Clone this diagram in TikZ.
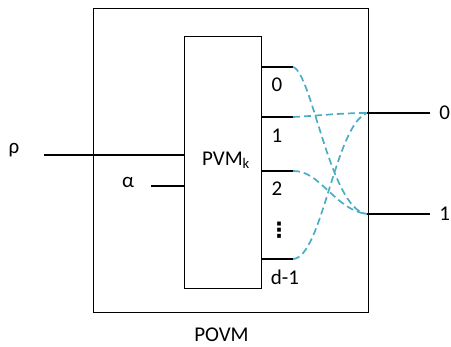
\documentclass[tikz,border=0pt]{standalone}
\usepackage{fontspec}
\setmainfont{Carlito}
\newfontfamily\symfont{DejaVu Sans}
\usetikzlibrary{positioning}
\definecolor{linkblue}{RGB}{75,172,198}

\begin{document}
\begin{tikzpicture}[x=1pt, y=-1pt, font=\fontsize{21}{24}\selectfont,
    wire/.style={line width=2.2pt},
    link/.style={linkblue, line width=1.7pt, dash pattern=on 7pt off 4pt}]
  \useasboundingbox (0,0) rectangle (451,347);
  % outer box and PVM box
  \draw[line width=1pt] (93,9) rectangle (368,313);
  \node[draw,line width=1pt,minimum width=77pt,minimum height=252pt,inner sep=0pt] (pvm) at (222.5,163) {};
  \node (pvmlabel) at (226,160) {PVM\textsubscript{k}};
  \node (povm) at (221.5,335) {POVM};
  % inputs
  \node (rho) at (14,150) {ρ};
  \node (alpha) at (128,182) {α};
  \coordinate (rhoin) at (44,155);
  \coordinate (alphain) at (151,186);
  \draw[wire] (rhoin) -- (rhoin -| pvm.west);
  \draw[wire] (alphain) -- (alphain -| pvm.west);
  % PVM outcomes
  \coordinate (o0) at (293,67);
  \coordinate (o1) at (293,117);
  \coordinate (o2) at (293,171);
  \coordinate (od) at (293,259);
  \draw[wire] (o0 -| pvm.east) -- (o0) (o1 -| pvm.east) -- (o1)
              (o2 -| pvm.east) -- (o2) (od -| pvm.east) -- (od);
  \node (l0) at (277,85) {0};
  \node (l1) at (277,136) {1};
  \node (l2) at (277,189) {2};
  \node[inner sep=0pt] (ldots) at (279,230) {\symfont\bfseries ⋮};
  \node (ld) at (285,277) {d-1};
  % POVM outcomes
  \coordinate (p0) at (367,113);
  \coordinate (p1) at (367,214);
  \draw[wire] (p0) -- (430,113) node[right=5pt] (r0) {0};
  \draw[wire] (p1) -- (430,214) node[right=5pt] (r1) {1};
  % classical relabelling
  \draw[link] (o0) .. controls (312,72) and (330,210) .. (p1);
  \draw[link] (o1) .. controls (315,116) and (340,113) .. (p0);
  \draw[link] (o2) .. controls (320,170) and (335,210) .. (p1);
  \draw[link] (od) .. controls (322,258) and (335,125) .. (p0);
\end{tikzpicture}
\end{document}
